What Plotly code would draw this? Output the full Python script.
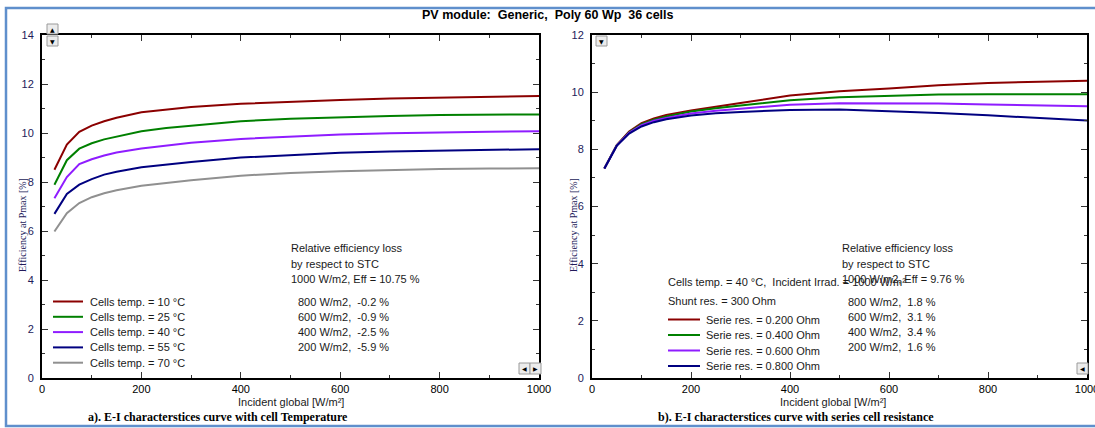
import plotly.graph_objects as go

W, H = 1095, 428

# ---------------- data ----------------
irr = [25, 50, 75, 100, 125, 150, 200, 250, 300, 400, 500, 600, 700, 800, 900, 1000]

temp_names = ["Cells temp. = 10 °C", "Cells temp. = 25 °C", "Cells temp. = 40 °C",
              "Cells temp. = 55 °C", "Cells temp. = 70 °C"]
temp_colors = ["#8b0000", "#008000", "#8f1cff", "#000080", "#909090"]
eff_t10 = [8.50, 9.53, 10.05, 10.30, 10.48, 10.62, 10.85, 10.97, 11.06, 11.19, 11.28, 11.35, 11.41, 11.45, 11.48, 11.51]
eff_t25 = [7.89, 8.89, 9.36, 9.58, 9.74, 9.86, 10.07, 10.20, 10.30, 10.48, 10.58, 10.65, 10.69, 10.73, 10.74, 10.76]
eff_t40 = [7.34, 8.20, 8.73, 8.93, 9.08, 9.20, 9.37, 9.50, 9.60, 9.76, 9.86, 9.94, 9.99, 10.03, 10.05, 10.07]
eff_t55 = [6.70, 7.51, 7.89, 8.12, 8.30, 8.42, 8.60, 8.72, 8.82, 9.00, 9.11, 9.19, 9.25, 9.29, 9.32, 9.34]
eff_t70 = [5.98, 6.73, 7.14, 7.38, 7.54, 7.66, 7.85, 7.97, 8.07, 8.26, 8.37, 8.44, 8.49, 8.53, 8.55, 8.56]
temp_series = [eff_t10, eff_t25, eff_t40, eff_t55, eff_t70]

res_names = ["Serie res. = 0.200 Ohm", "Serie res. = 0.400 Ohm",
             "Serie res. = 0.600 Ohm", "Serie res. = 0.800 Ohm"]
res_colors = ["#8b0000", "#008000", "#8f1cff", "#000080"]
eff_r200 = [7.33, 8.15, 8.62, 8.92, 9.08, 9.20, 9.36, 9.50, 9.62, 9.88, 10.03, 10.13, 10.24, 10.32, 10.37, 10.40]
eff_r400 = [7.33, 8.14, 8.60, 8.88, 9.04, 9.15, 9.32, 9.44, 9.53, 9.72, 9.82, 9.88, 9.92, 9.93, 9.94, 9.93]
eff_r600 = [7.33, 8.13, 8.58, 8.85, 9.00, 9.10, 9.25, 9.35, 9.42, 9.56, 9.61, 9.61, 9.60, 9.57, 9.53, 9.51]
eff_r800 = [7.33, 8.12, 8.55, 8.80, 8.95, 9.05, 9.18, 9.26, 9.31, 9.38, 9.39, 9.34, 9.27, 9.19, 9.10, 9.01]
res_series = [eff_r200, eff_r400, eff_r600, eff_r800]

left_info = ["Relative efficiency loss", "by respect to STC", "1000 W/m2, Eff = 10.75 %"]
left_loss = ["800 W/m2,  -0.2 %", "600 W/m2,  -0.9 %", "400 W/m2,  -2.5 %", "200 W/m2,  -5.9 %"]
right_info = ["Relative efficiency loss", "by respect to STC", "1000 W/m2, Eff = 9.76 %"]
right_loss = ["800 W/m2,  1.8 %", "600 W/m2,  3.1 %", "400 W/m2,  3.4 %", "200 W/m2,  1.6 %"]
right_cond = ["Cells temp. = 40 °C,  Incident Irrad. = 1000 W/m²", "Shunt res. = 300 Ohm"]

title_text = "PV module:  Generic,  Poly 60 Wp  36 cells"
cap_a = "a). E-I characterstices curve with cell Temperature"
cap_b = "b). E-I characterstices curve with series cell resistance"
xtitle = "Incident global [W/m²]"
ytitle = "Efficiency at Pmax [%]"

# ---------------- helpers ----------------
def px(x):
    return x / W

def py(y):
    return 1 - y / H

def nb(s):
    return s.replace("  ", "\u00a0\u00a0")

SANS = "Liberation Sans, Arial, sans-serif"
SERIF = "Liberation Serif, Times New Roman, serif"

fig = go.Figure()

for name, col, ys in zip(temp_names, temp_colors, temp_series):
    fig.add_trace(go.Scatter(x=irr, y=ys, mode="lines", name=name,
                             line=dict(color=col, width=2), xaxis="x", yaxis="y",
                             showlegend=False))
for name, col, ys in zip(res_names, res_colors, res_series):
    fig.add_trace(go.Scatter(x=irr, y=ys, mode="lines", name=name,
                             line=dict(color=col, width=2), xaxis="x2", yaxis="y2",
                             showlegend=False))

dom_l = [px(42), px(539)]
dom_r = [px(592), px(1087)]
dom_y = [py(378), py(35)]

def xax(domain, anchor):
    return dict(domain=domain, anchor=anchor, range=[0, 1000], dtick=200, tick0=0,
                automargin=False, ticklabeloverflow="allow",
                showgrid=False, zeroline=False, showline=True, linecolor="black",
                linewidth=2, mirror="ticks", ticks="inside", ticklen=6, tickwidth=1,
                tickcolor="#333", minor=dict(dtick=100, ticks="inside", ticklen=3,
                                            tickcolor="#333", showgrid=False),
                tickfont=dict(family=SANS, size=11, color="black"), fixedrange=True)

def yax(domain, anchor, ymax):
    return dict(domain=domain, anchor=anchor, range=[0, ymax], dtick=2, tick0=0,
                automargin=False, ticklabeloverflow="allow",
                showgrid=False, zeroline=False, showline=True, linecolor="black",
                linewidth=2, mirror="ticks", ticks="inside", ticklen=6, tickwidth=1,
                tickcolor="#333", minor=dict(dtick=1, ticks="inside", ticklen=3,
                                            tickcolor="#333", showgrid=False),
                ticklabelstandoff=4,
                tickfont=dict(family=SANS, size=11, color="#231a5a"), fixedrange=True)

def yout(domain, anchor, ymax, over):
    return dict(domain=domain, anchor=anchor, overlaying=over, side="left",
                automargin=False,
                range=[0, ymax], dtick=2, tick0=0, showgrid=False, zeroline=False,
                showline=False, ticks="outside", ticklen=5, tickcolor="#333",
                showticklabels=False, fixedrange=True)

fig.update_layout(
    width=W, height=H, margin=dict(l=0, r=0, t=0, b=0, pad=0, autoexpand=False),
    paper_bgcolor="white", plot_bgcolor="white",
    xaxis=xax(dom_l, "y"), yaxis=yax(dom_y, "x", 14),
    xaxis2=xax(dom_r, "y2"), yaxis2=yax(dom_y, "x2", 12),
    yaxis3=yout(dom_y, "x", 14, "y"), yaxis4=yout(dom_y, "x2", 12, "y2"),
)

ann = []
def text(x, y, s, size=11, family=SANS, color="#1a1a1a", xanchor="left", bold=False):
    t = nb(s)
    if bold:
        t = "<b>" + t + "</b>"
    ann.append(dict(x=px(x), y=py(y), xref="paper", yref="paper", text=t,
                    showarrow=False, xanchor=xanchor, yanchor="middle", borderpad=0,
                    font=dict(family=family, size=size, color=color)))

# title and captions
text(548, 15, title_text, size=12.5, color="black", xanchor="center", bold=True)
text(218, 417, cap_a, size=12, family=SERIF, color="black", xanchor="center", bold=True)
text(796, 417, cap_b, size=12, family=SERIF, color="black", xanchor="center", bold=True)

# axis titles
text(291, 402, xtitle, xanchor="center", color="#1a1a1a")
text(833, 402, xtitle, xanchor="center", color="#1a1a1a")
for xx in (22, 573):
    ann.append(dict(x=px(xx), y=py(225), xref="paper", yref="paper", text=ytitle,
                    showarrow=False, textangle=-90, xanchor="center", yanchor="middle",
                    font=dict(family=SERIF, size=10, color="#231a5a")))

# left info block
for i, s in enumerate(left_info):
    text(290, 248 + i * 15.5, s)
for i, s in enumerate(left_loss):
    text(297, 302 + i * 15, s)
# right info block
for i, s in enumerate(right_info):
    text(841, 248 + i * 15.5, s)
text(667, 282, right_cond[0])
text(667, 301, right_cond[1])
for i, s in enumerate(right_loss):
    text(847, 302 + i * 15, s)

shapes = []
# manual legends
for i, (n, c) in enumerate(zip(temp_names, temp_colors)):
    yy = 301.5 + i * 15.3
    shapes.append(dict(type="line", xref="paper", yref="paper", x0=px(53), x1=px(83),
                       y0=py(yy), y1=py(yy), line=dict(color=c, width=2)))
    text(89, yy, n)
for i, (n, c) in enumerate(zip(res_names, res_colors)):
    yy = 319.5 + i * 15.5
    shapes.append(dict(type="line", xref="paper", yref="paper", x0=px(668), x1=px(700),
                       y0=py(yy), y1=py(yy), line=dict(color=c, width=2)))
    text(705, yy, n)

# small scroll buttons (UI widgets of original software)
def button(x0, y0, x1, y1, glyph):
    shapes.append(dict(type="rect", xref="paper", yref="paper", x0=px(x0), x1=px(x1),
                       y0=py(y1), y1=py(y0), fillcolor="#ececec",
                       line=dict(color="#9a9a9a", width=1)))
    ann.append(dict(x=px((x0 + x1) / 2), y=py((y0 + y1) / 2), xref="paper", yref="paper",
                    text=glyph, showarrow=False, xanchor="center", yanchor="middle",
                    font=dict(family="DejaVu Sans", size=6, color="black")))

button(47, 24, 58, 34, "▲")
button(47, 36, 58, 46, "▼")
button(519, 363, 530, 374, "◀")
button(530, 363, 541, 374, "▶")
button(596, 36, 607, 46, "▼")
button(1077, 363, 1088, 374, "◀")

# blue frame
shapes.append(dict(type="rect", xref="paper", yref="paper", x0=px(6), x1=px(1100),
                   y0=py(426), y1=py(8), line=dict(color="#5f8fcc", width=2.5),
                   fillcolor="rgba(0,0,0,0)", layer="above"))

fig.update_layout(annotations=ann, shapes=shapes)
fig.write_html("out.html")
